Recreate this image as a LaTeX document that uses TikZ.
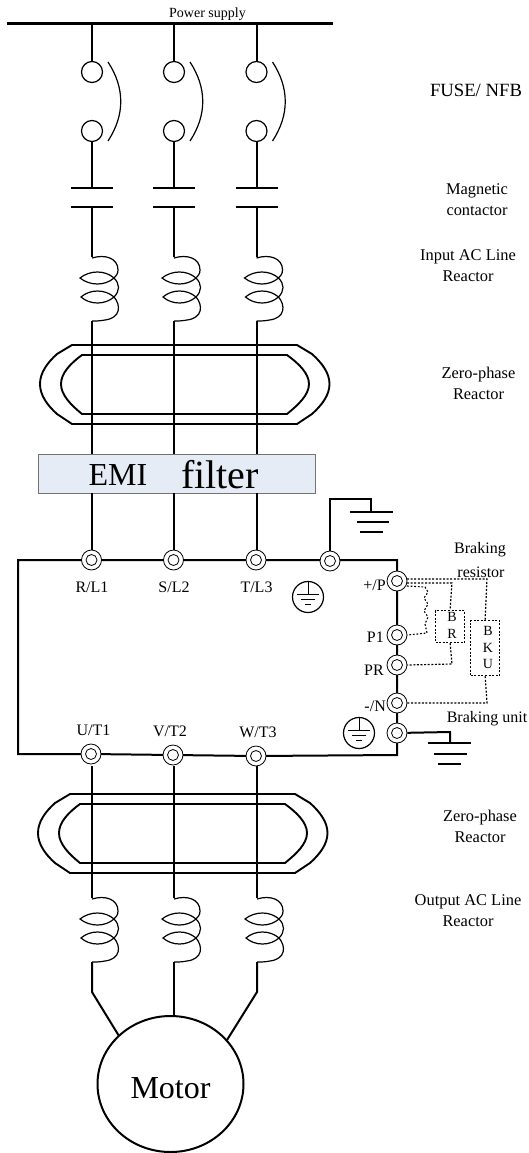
\documentclass[tikz,border=0pt]{standalone}
\usepackage{fontspec}
\setmainfont{Liberation Serif}
\tikzset{
  x=1pt,y=-1pt,
  wire/.style={line width=2pt,black},
  heavy/.style={line width=2.6pt,black},
  coilline/.style={line width=1.2pt,black},
  term/.style={circle,draw=black,fill=white,line width=0.8pt,minimum size=20pt,inner sep=0pt},
  terminner/.style={circle,draw=black,line width=0.8pt,minimum size=11pt,inner sep=0pt},
  fuse/.style={circle,draw=black,fill=white,line width=1.2pt,minimum size=21pt,inner sep=0pt},
  dot/.style={line width=1.2pt,dash pattern=on 2pt off 1.6pt,black},
  dotbox/.style={draw=black,line width=1.2pt,dash pattern=on 2pt off 1.6pt,inner sep=0pt,anchor=north west},
  lab/.style={font=\fontsize{16}{18}\selectfont,inner sep=0pt,align=center},
  side lab/.style={font=\fontsize{16.4}{21}\selectfont,inner sep=0pt,align=center},
  small lab/.style={font=\fontsize{14}{16}\selectfont,inner sep=0pt,align=center},
  big lab/.style={inner sep=0pt,anchor=base},
  earth/.style={circle,draw=black,line width=1.2pt,minimum size=31pt,inner sep=0pt},
}
\newcommand{\coilat}[2]{% x, y (top)
  \draw[coilline] (#1,#2+1) .. controls (#1+13,#2-3) and (#1+26,#2+1) .. (#1+26,#2+13)
     .. controls (#1+26,#2+17) and (#1+24,#2+19) .. (#1+22,#2+21)
     .. controls (#1+13,#2+13) and (#1-2,#2+13) .. (#1-12,#2+21)
     .. controls (#1-2,#2+29) and (#1+13,#2+29) .. (#1+22,#2+21)
     .. controls (#1+28,#2+27) and (#1+28,#2+34) .. (#1+22,#2+40)
     .. controls (#1+13,#2+32) and (#1-2,#2+32) .. (#1-11,#2+40)
     .. controls (#1-2,#2+48) and (#1+13,#2+48) .. (#1+22,#2+40)
     .. controls (#1+29,#2+48) and (#1+29,#2+61) .. (#1+13,#2+63)
     .. controls (#1+8,#2+64) and (#1+4,#2+64) .. (#1,#2+64);
}
\newcommand{\corering}[2]{% x shift, y top
  \draw[line width=1.9pt] (72+#1,#2) -- (297+#1,#2) -- (312+#1,#2+9) .. controls (322+#1,#2+18) and (329.5+#1,#2+28) .. (329.5+#1,#2+39)
    .. controls (329.5+#1,#2+50) and (322+#1,#2+60) .. (312+#1,#2+69) -- (297+#1,#2+79) -- (72+#1,#2+79) -- (57+#1,#2+69)
    .. controls (47+#1,#2+60) and (40+#1,#2+50) .. (40+#1,#2+39) .. controls (40+#1,#2+28) and (47+#1,#2+18) .. (57+#1,#2+9) -- cycle;
  \draw[line width=1.9pt] (82+#1,#2+10) -- (287+#1,#2+10) .. controls (298+#1,#2+18) and (309+#1,#2+28) .. (309+#1,#2+39)
    .. controls (309+#1,#2+50) and (298+#1,#2+60) .. (287+#1,#2+69) -- (82+#1,#2+69)
    .. controls (71+#1,#2+60) and (61+#1,#2+50) .. (61+#1,#2+39) .. controls (61+#1,#2+28) and (71+#1,#2+18) .. (82+#1,#2+10) -- cycle;
}
\newcommand{\earthmark}[3]{% name, x, y
  \node[earth] (#1) at (#2,#3) {};
  \draw[line width=0.8pt] (#2,#3-15) -- (#2,#3-3) (#2-11,#3-3) -- (#2+11,#3-3) (#2-7,#3+2) -- (#2+7,#3+2) (#2-3,#3+7) -- (#2+3,#3+7);
}
\begin{document}
\begin{tikzpicture}
\useasboundingbox (0,0) rectangle (529,1153);
\coordinate (busL) at (7,23.5); \coordinate (busR) at (333,23.5);
\foreach \n/\x in {a/92,b/174,c/256.5}{
  \coordinate (top\n) at (\x,23.5);
  \node[fuse] (fa\n) at (\x,72) {};
  \node[fuse] (fb\n) at (\x,131) {};
  \coordinate (c1\n) at (\x,188); \coordinate (c2\n) at (\x,207);
  \coordinate (co\n) at (\x,257); \coordinate (cb\n) at (\x,321);
  \coordinate (ft\n) at (\x,454); \coordinate (fb2\n) at (\x,493);
  \draw[wire] (top\n) -- (fa\n);
  \draw[wire] (fb\n) -- (c1\n);
  \draw[heavy] (\x-21,188) -- (\x+21,188);
  \draw[heavy] (\x-21,207) -- (\x+21,207);
  \draw[wire] (c2\n) -- (co\n);
  \draw[line width=1.2pt] (\x+16,62) .. controls (\x+33,88) and (\x+33,115) .. (\x+16,141);
  \coilat{\x}{257}
  \draw[wire] (cb\n) -- (ft\n);
}
\draw[heavy] (busL) -- (busR);
\corering{0}{345}
\node[draw=black!55,line width=0.8pt,fill={rgb,255:red,230;green,236;blue,246},minimum width=277pt,minimum height=39pt,inner sep=0pt,anchor=north west] (emi) at (38,454) {};
\node[big lab,font=\fontsize{32}{34}\selectfont] (emit) at (118,485) {EMI};
\node[big lab,font=\fontsize{40}{42}\selectfont] (filt) at (220,488) {filter};
\draw[wire] (397,560) -- (18,560) -- (18,754) -- (91,754) -- (173,755) -- (256,756) -- (397,755) -- cycle;
\foreach \n/\x/\t in {a/92/R\slash L1,b/174/S\slash L2,c/256.5/T\slash L3}{
  \draw[wire] (fb2\n) -- (\x,550);
  \node[term] (in\n) at (\x-.5,560) {};
  \node[terminner] at (in\n) {};
  \node[lab] at (\x,587) {\t};
}
\node[term] (ing) at (330,561) {}; \node[terminner] at (ing) {};
\coordinate (g1a) at (330,499); \coordinate (g1b) at (371,499); \coordinate (g1c) at (371,512);
\draw[wire] (ing) -- (g1a) -- (g1b) -- (g1c);
\draw[heavy] (350,512) -- (393,512) (357,522) -- (389,522) (360,532) -- (383,532);
\earthmark{e1}{308}{597}
\earthmark{e2}{359}{733}
\foreach \n/\y/\t/\ly/\lx in {tp/581/+\slash P/585/386,tpa/635/P1/637/384,tpr/665/PR/670/384,tn/703/-\slash N/706/386,tg/733//733/386}{
  \node[term] (\n) at (397,\y) {};
  \node[terminner] at (\n) {};
  \node[lab,anchor=east] at (\lx,\ly) {\t};
}
\coordinate (g2a) at (450,732); \coordinate (g2b) at (450,743);
\draw[wire] (tg) -- (g2a) -- (g2b);
\draw[heavy] (428,743) -- (471,743) (434,754) -- (467,754) (438,764) -- (461,764);
\node[dotbox,minimum width=29pt,minimum height=32pt] (br) at (435,610) {};
\node[dotbox,minimum width=29pt,minimum height=55pt] (bku) at (470,620) {};
\node[small lab] at (452,617) {B};
\node[small lab] at (452,634) {R};
\node[small lab] at (488,631) {B};
\node[small lab] at (488,648) {K};
\node[small lab] at (488,664) {U};
\coordinate (pa) at (407,579); \coordinate (pb) at (407,583); \coordinate (pc) at (407,586);
\draw[dot] (pa) -- (487,579) -- (bku.north);
\draw[dot] (pb) -- (452,583) -- (br.north);
\draw[dot] (br.south) -- (452,664) -- (tpr.east);
\draw[dot] (bku.south) -- (487,703) -- (tn.east);
\draw[line width=1.1pt,dash pattern=on 1.8pt off 1.8pt] (pc) -- (425,587) -- (428,592) -- (424,598) -- (428,604) -- (424,611) -- (428,617) -- (425,624) -- (427,633) -- (tpa.east);
\foreach \n/\x/\y/\t/\lx in {a/91/754/U\slash T1/93.5,b/173/755/V\slash T2/170,c/256/756/W\slash T3/258}{
  \node[term] (out\n) at (\x,\y) {};
  \node[terminner] at (out\n) {};
  \node[lab] at (\lx,\y-24) {\t};
  \coordinate (oc\n) at (\x+1,898);
  \coordinate (ob\n) at (\x+1,962);
  \draw[wire] (\x+1,766) -- (oc\n);
  \coilat{\x+1}{898}
}
\corering{-2}{794}
\node[inner sep=0pt,minimum size=0pt] (motorc) at (170.5,1084) {};
\draw[line width=2pt] (motorc) ellipse [x radius=73,y radius=68];
\node[big lab,font=\fontsize{32}{34}\selectfont] (mt) at (170.5,1098) {Motor};
\draw[wire] (oba) -- (92,992) -- (119,1036);
\draw[wire] (obb) -- (174,1016);
\draw[wire] (obc) -- (257,992) -- (227,1040);
\node[small lab] (ps) at (207.5,14) {Power supply};
\node[inner sep=0pt,font=\fontsize{18.7}{20}\selectfont] at (476,90) {FUSE/ NFB};
\node[side lab] at (477,200) {Magnetic\\contactor};
\node[side lab] at (468,266) {Input AC Line\\Reactor};
\node[side lab] at (478.5,383) {Zero-phase\\Reactor};
\node[lab] at (480,550) {Braking};
\node[lab] at (481,572) {resistor};
\node[lab] at (487,719) {Braking unit};
\node[side lab] at (480,826) {Zero-phase\\Reactor};
\node[side lab] at (468,911) {Output AC Line\\Reactor};
\end{tikzpicture}
\end{document}
